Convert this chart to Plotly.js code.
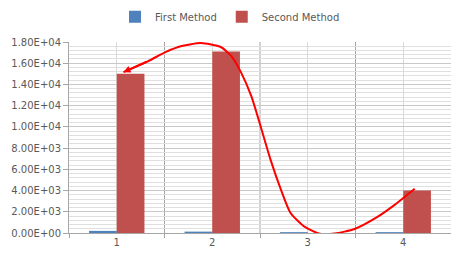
<!DOCTYPE html>
<html><head><meta charset="utf-8">
<script src="https://cdn.plot.ly/plotly-3.0.1.min.js"></script>
<style>html,body{margin:0;padding:0;background:#fff}#chart{width:451px;height:257px}</style>
</head><body><div id="chart"></div>
<script>
const categories = [1, 2, 3, 4];
const categoryLabels = ['1', '2', '3', '4'];
const firstMethod = [200, 130, 80, 80];
const secondMethod = [15000, 17100, 0, 4000];
const curveX = [1.07, 1.33, 1.51, 1.68, 1.88, 2.09, 2.2, 2.3, 2.41, 2.51, 2.61, 2.72, 2.82, 2.97, 3.13, 3.28, 3.49, 3.73, 3.91, 4.12];
const curveY = [15160, 16200, 17050, 17620, 17900, 17530, 16670, 15160, 12880, 9950, 6920, 4070, 1890, 570, -80, -50, 380, 1520, 2650, 4170];
const yTickVals = [0, 2000, 4000, 6000, 8000, 10000, 12000, 14000, 16000, 18000];
const yTickText = yTickVals.map(v => v.toExponential(2).replace('e', 'E').replace(/([+-])(\d)$/, '$10$2'));

const font = {family: 'DejaVu Sans', size: 10, color: '#595959'};
const traces = [
  {type: 'bar', name: 'First Method', x: categories, y: firstMethod, marker: {color: '#4F81BD'}, hoverinfo: 'skip'},
  {type: 'bar', name: 'Second Method', x: categories, y: secondMethod, marker: {color: '#C0504D'}, hoverinfo: 'skip'},
  {type: 'scatter', mode: 'lines', x: curveX, y: curveY, line: {color: '#FF0000', width: 2, shape: 'spline', smoothing: 0.6}, showlegend: false, hoverinfo: 'skip', cliponaxis: false}
];
const boundaryLines = categories.slice(0, -1).map(c => ({
  type: 'line', layer: 'below', xref: 'x', yref: 'paper', x0: c + 0.5, x1: c + 0.5, y0: 0, y1: 1,
  line: {color: '#A6A6A6', width: 1}
}));
const layout = {
  width: 451, height: 257,
  margin: {l: 69, r: 0, t: 42, b: 24},
  paper_bgcolor: '#fff', plot_bgcolor: '#fff',
  font: font,
  barmode: 'group', bargap: 0.42, bargroupgap: 0,
  showlegend: true,
  legend: {orientation: 'h', xref: 'container', yref: 'container', x: 0.51, xanchor: 'center', y: 0.935, yanchor: 'middle', font: font, itemwidth: 30, traceorder: 'normal'},
  xaxis: {
    range: [0.5, 4.5], tickvals: categories, ticktext: categoryLabels,
    showgrid: true, gridcolor: '#D9D9D9', gridwidth: 1,
    ticks: '', showline: true, linecolor: '#A6A6A6', zeroline: false,
    minor: {tick0: 0.5, dtick: 1, showgrid: false, ticks: 'outside', ticklen: 4, tickcolor: '#A6A6A6'},
    tickfont: font, fixedrange: true
  },
  yaxis: {
    range: [0, 18000], tickvals: yTickVals, ticktext: yTickText,
    showgrid: true, gridcolor: '#C8C8C8', gridwidth: 1,
    ticks: 'outside', ticklen: 5, tickcolor: '#A6A6A6',
    showline: true, linecolor: '#A6A6A6', zeroline: false,
    minor: {dtick: 400, showgrid: true, gridcolor: '#E0E0E0', griddash: 'solid'},
    tickfont: font, fixedrange: true
  },
  shapes: boundaryLines,
  annotations: [{
    x: curveX[0], y: curveY[0], ax: curveX[1], ay: curveY[1], axref: 'x', ayref: 'y', xref: 'x', yref: 'y',
    text: '', showarrow: true, arrowhead: 2, arrowsize: 0.7, arrowwidth: 2, arrowcolor: '#FF0000'
  }]
};
Plotly.newPlot('chart', traces, layout, {displayModeBar: false, staticPlot: true});
</script></body></html>
